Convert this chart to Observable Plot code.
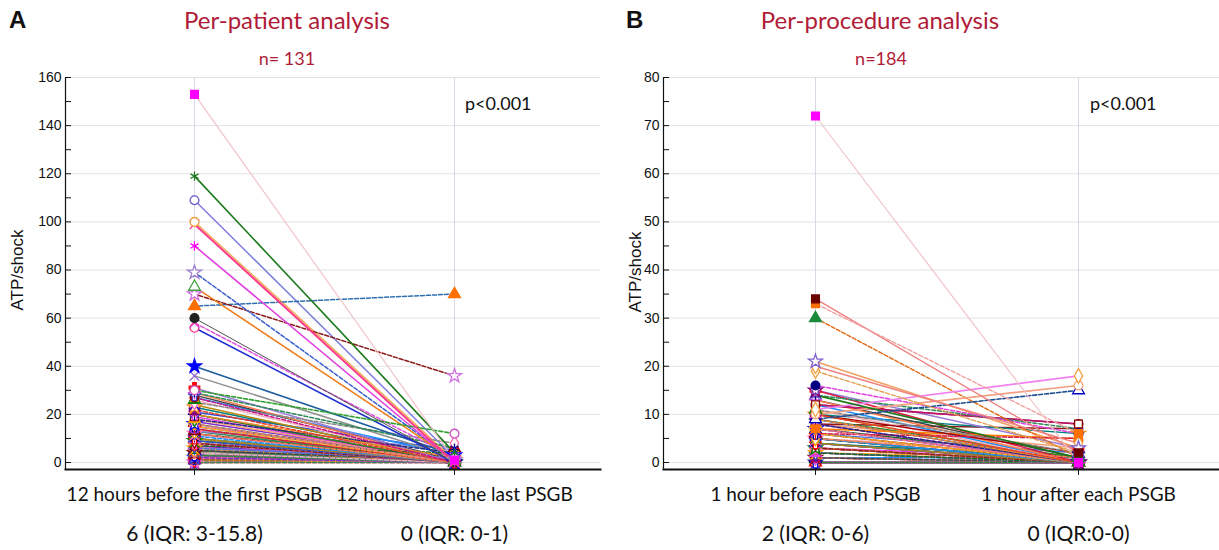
<!DOCTYPE html>
<html><head><meta charset="utf-8">
<script src="https://cdn.jsdelivr.net/npm/d3@7"></script>
<script src="https://cdn.jsdelivr.net/npm/@observablehq/plot@0.6"></script>
<style>
body{margin:0;background:#fff;}
#wrap{position:relative;width:1219px;height:550px;overflow:hidden;font-family:Lato,sans-serif;background:#fff;}
.abs{position:absolute;white-space:nowrap;}
.letter{font-family:"Liberation Sans",Arial,sans-serif;font-weight:bold;font-size:24px;line-height:28px;color:#111;}
.title{color:#b01c38;font-size:24px;line-height:28px;text-align:center;width:300px;}
.sub{color:#b01c38;font-size:18px;line-height:22px;text-align:center;width:200px;}
.ptxt{font-size:18px;line-height:22px;color:#111;}
.ylab{font-family:"Liberation Sans",Arial,sans-serif;font-size:17px;line-height:20px;color:#111;width:100px;text-align:center;transform:rotate(-90deg);}
</style></head>
<body><div id="wrap">
  <div class="abs letter" style="left:9px;top:6px">A</div>
  <div class="abs title" style="left:137px;top:6px">Per-patient analysis</div>
  <div class="abs sub" style="left:187px;top:47px">n= 131</div>
  <div class="abs ptxt" style="left:465px;top:92px">p&lt;0.001</div>
  <div class="abs ylab" style="left:-32px;top:260px">ATP/shock</div>
  <div class="abs" id="chartA" style="left:0;top:65px"></div>

  <div class="abs letter" style="left:626px;top:6px">B</div>
  <div class="abs title" style="left:730px;top:6px">Per-procedure analysis</div>
  <div class="abs sub" style="left:781px;top:47px">n=184</div>
  <div class="abs ptxt" style="left:1090px;top:92px">p&lt;0.001</div>
  <div class="abs ylab" style="left:586px;top:262px">ATP/shock</div>
  <div class="abs" id="chartB" style="left:610px;top:65px"></div>
</div>
<script>
// ---------------- DATA ----------------
const categoriesA = ["12 hours before the first PSGB", "12 hours after the last PSGB"];
const summaryA = ["6 (IQR: 3-15.8)", "0 (IQR: 0-1)"];
const yTicksA = [0, 20, 40, 60, 80, 100, 120, 140, 160];
const yMinorA = [0, 10, 20, 30, 40, 50, 60, 70, 80, 90, 100, 110, 120, 130, 140, 150, 160];
const beforeA = [153, 119, 109, 100, 99, 90, 79, 73, 70, 65, 60, 58, 56, 40, 36, 30,
  31, 29, 29, 28, 27, 27, 26, 25, 24, 23, 22, 21, 20, 20, 20, 19, 18, 18, 17, 16, 16, 15, 15, 15,
  14, 14, 13, 13, 12, 12, 12, 11, 11, 10, 10, 10, 10, 9, 9, 9, 8, 8, 8, 8, 7, 7, 7, 7,
  6, 6, 6, 6, 6, 5, 5, 5, 5, 5, 4, 4, 4, 4, 4, 3, 3, 3, 3, 3, 3, 2, 2, 2, 2, 2, 1, 1, 1, 1, 1, 0, 0, 0, 0];
const afterA = [1, 4, 2, 1, 0, 0, 1, 1, 36, 70, 0, 2, 0, 3, 2, 12,
  0, 6, 0, 1, 0, 3, 0, 8, 0, 1, 0, 5, 0, 2, 0, 0, 4, 0, 1, 0, 0, 2, 0, 1,
  0, 0, 6, 0, 0, 1, 0, 0, 3, 0, 0, 1, 0, 0, 2, 0, 0, 0, 1, 0, 0, 0, 4, 0,
  0, 1, 0, 0, 2, 0, 0, 1, 0, 0, 0, 0, 1, 0, 0, 0, 0, 1, 0, 0, 0, 0, 0, 1, 0, 0, 0, 0, 1, 0, 0, 0, 0, 1, 0];

const categoriesB = ["1 hour before each PSGB", "1 hour after each PSGB"];
const summaryB = ["2 (IQR: 0-6)", "0 (IQR:0-0)"];
const yTicksB = [0, 10, 20, 30, 40, 50, 60, 70, 80];
const yMinorB = [0, 5, 10, 15, 20, 25, 30, 35, 40, 45, 50, 55, 60, 65, 70, 75, 80];
const beforeB = [72, 34, 33, 30, 21, 20, 19, 16, 14, 11, 10, 9, 12, 10, 7,
  15, 15, 14, 13, 13, 12, 12, 11, 11, 10, 10, 10, 9, 9, 9, 8, 8, 8, 8, 7, 7, 7, 7,
  6, 6, 6, 6, 6, 5, 5, 5, 5, 5, 5, 4, 4, 4, 4, 4, 4, 3, 3, 3, 3, 3, 3, 3,
  2, 2, 2, 2, 2, 2, 2, 2, 1, 1, 1, 1, 1, 1, 1, 1, 1, 0, 0, 0, 0, 0, 0, 0, 0, 0, 0, 0, 0];
const afterB = [0, 2, 6, 1, 3, 4, 2, 6, 1, 18, 16, 15, 8, 2, 5,
  0, 3, 7, 0, 1, 8, 0, 0, 2, 0, 6, 0, 0, 1, 0, 7, 0, 0, 3, 0, 0, 1, 0,
  0, 2, 0, 5, 0, 0, 1, 0, 0, 0, 2, 0, 0, 1, 0, 0, 0, 0, 0, 1, 0, 0, 0, 0,
  0, 0, 1, 0, 0, 0, 0, 0, 0, 0, 0, 1, 0, 0, 0, 0, 0, 0, 0, 0, 0, 0, 0, 0, 0, 0, 0, 0];

// ---------------- STYLES ----------------
const notableStylesA = [
  {stroke: "#f2c4c8", dash: false, symbol: "square", mark: "#ff00ff", fill: true, w: 1.2},
  {stroke: "#1e7b1e", dash: false, symbol: "asterisk", mark: "#1e7b1e", fill: true, w: 1.6},
  {stroke: "#7f7fe0", dash: false, symbol: "circle", mark: "#6a5acd", fill: false, w: 1.5},
  {stroke: "#f0b060", dash: false, symbol: "circle", mark: "#f0a040", fill: false, w: 1.5},
  {stroke: "#ff3c8c", dash: false, symbol: "times", mark: "#ff3c8c", fill: true, w: 2},
  {stroke: "#e040e0", dash: false, symbol: "asterisk", mark: "#ff00ff", fill: true, w: 1.6},
  {stroke: "#3a5fcd", dash: true, symbol: "star", mark: "#a080d0", fill: false, w: 1.5},
  {stroke: "#f08020", dash: false, symbol: "triangle", mark: "#40a040", fill: false, w: 1.6},
  {stroke: "#8b1a1a", dash: true, symbol: "star", mark: "#d070e0", fill: false, w: 1.5},
  {stroke: "#2f6fb0", dash: true, symbol: "triangle", mark: "#ff7000", fill: true, w: 1.5},
  {stroke: "#505050", dash: false, symbol: "circle", mark: "#222222", fill: true, w: 1},
  {stroke: "#e050e0", dash: true, symbol: "times", mark: "#e050e0", fill: true, w: 1.5},
  {stroke: "#2030d0", dash: false, symbol: "circle", mark: "#ff3080", fill: false, w: 1.6},
  {stroke: "#1f5fa0", dash: false, symbol: "star", mark: "#0000ff", fill: true, w: 1.6},
  {stroke: "#909090", dash: false, symbol: "times", mark: "#9060d0", fill: true, w: 1.5},
  {stroke: "#30a030", dash: true, symbol: "circle", mark: "#d050c0", fill: false, w: 1.6}
];
const notableStylesB = [
  {stroke: "#f2c4c8", dash: false, symbol: "square", mark: "#ff00ff", fill: true, w: 1.2},
  {stroke: "#f08080", dash: false, symbol: "square", mark: "#6b0000", fill: true, w: 1.4},
  {stroke: "#f0a0a0", dash: true, symbol: "square", mark: "#ff7000", fill: true, w: 1.4},
  {stroke: "#e07020", dash: true, symbol: "triangle", mark: "#1a8a3a", fill: true, w: 1.5},
  {stroke: "#f0a060", dash: false, symbol: "star", mark: "#8060d0", fill: false, w: 1.5},
  {stroke: "#f08080", dash: false, symbol: "diamond", mark: "#f0a040", fill: false, w: 1.4},
  {stroke: "#e0a050", dash: true, symbol: "diamond", mark: "#f0a040", fill: false, w: 1.4},
  {stroke: "#e040e0", dash: true, symbol: "circle", mark: "#000080", fill: true, w: 1.5},
  {stroke: "#1a7a1a", dash: false, symbol: "times", mark: "#8060d0", fill: true, w: 1.6},
  {stroke: "#f080f0", dash: false, symbol: "diamond", mark: "#f0a040", fill: false, w: 1.6},
  {stroke: "#f4a080", dash: false, symbol: "circle", mark: "#f4a080", fill: false, w: 1.6},
  {stroke: "#1f4f8f", dash: true, symbol: "triangle", mark: "#0000c0", fill: false, w: 1.6},
  {stroke: "#8b0000", dash: false, symbol: "square", mark: "#8b0000", fill: false, w: 1.5},
  {stroke: "#a00000", dash: false, symbol: "square", mark: "#c00000", fill: true, w: 1.5},
  {stroke: "#ff8000", dash: false, symbol: "square", mark: "#ff7000", fill: true, w: 1.5}
];
const linePalette = ["#e8402a","#2a4fd0","#2e8b2e","#f08a24","#8b1a1a","#e040e0","#1c2a80","#f4a070","#7a2ad0",
  "#f08080","#1a6a1a","#ff6eb4","#f5a623","#4a78e0","#9b5523","#d81b45","#9b7bd8","#2e8b57","#ff7f50",
  "#444444","#c71585","#1e90ff","#f6b0c0","#8a8a8a","#b8860b","#008080"];
const symbolPalette = ["circle","square","triangle","diamond","times","star","cross","asterisk","plus","wye"];
const markPalette = ["#008000","#ff69b4","#0000ff","#f08a24","#800080","#ff0000","#000080","#e040e0","#4040c0","#8b0000","#ffa500"];

function styleFor(i, notable) {
  if (i < notable.length) return notable[i];
  return {
    stroke: linePalette[i % linePalette.length],
    dash: i % 3 === 2,
    symbol: symbolPalette[i % symbolPalette.length],
    mark: markPalette[i % markPalette.length],
    fill: i % 2 === 0,
    w: 1.5
  };
}

function buildRows(cats, before, after, notable) {
  const rows = [];
  before.forEach((b, i) => {
    const s = styleFor(i, notable);
    rows.push({id: i, cat: cats[0], v: b, ...s});
    rows.push({id: i, cat: cats[1], v: after[i], ...s});
  });
  return rows.reverse();
}

function panel({cats, summary, before, after, notable, ticks, minor, ymax, marginLeft, marginRight, insetL, insetR}) {
  const width = 609, height = 485, marginTop = 12, marginBottom = 81;
  const frameW = width - marginLeft - marginRight;
  const rows = buildRows(cats, before, after, notable);
  const widths = [...new Set(rows.map(d => d.w))];
  const lineMarks = [];
  for (const w of widths) {
    lineMarks.push(Plot.line(rows.filter(d => !d.dash && d.w === w), {x: "cat", y: "v", z: "id", stroke: "stroke", strokeWidth: w}));
    lineMarks.push(Plot.line(rows.filter(d => d.dash && d.w === w), {x: "cat", y: "v", z: "id", stroke: "stroke", strokeWidth: w, strokeDasharray: "4,2"}));
  }
  return Plot.plot({
    width, height, marginTop, marginBottom, marginLeft, marginRight,
    style: {background: "transparent", color: "#111", fontFamily: "'Liberation Sans', Arial, sans-serif"},
    x: {type: "point", domain: cats, padding: 0, insetLeft: insetL, insetRight: insetR},
    y: {domain: [0, ymax], insetBottom: 7},
    marks: [
      Plot.ruleY(ticks, {stroke: "#e2e2e2", strokeWidth: 1}),
      Plot.ruleX(cats, {stroke: "#ddd8e6", strokeWidth: 1}),
      ...lineMarks,
      Plot.dot(rows, {x: "cat", y: "v", symbol: "symbol", stroke: "mark", fill: d => d.fill ? d.mark : "white", r: 4.4, strokeWidth: 1.3}),
      Plot.frame({anchor: "left", stroke: "#111", strokeWidth: 1.2}),
      Plot.frame({anchor: "bottom", stroke: "#111", strokeWidth: 2}),
      Plot.tickY(minor, {y: d => d, stroke: "#111", strokeWidth: 1, insetRight: frameW - 6}),
      Plot.axisY(ticks, {tickSize: 0, tickPadding: 4, fontSize: 14, label: null}),
      Plot.axisX(cats, {tickSize: 6, tickPadding: 12, fontSize: 19, fontFamily: "Lato, sans-serif", label: null}),
      Plot.text(cats, {x: d => d, text: (d, i) => summary[i], frameAnchor: "bottom", dy: 71, fontSize: 21, fontFamily: "Lato, sans-serif"})
    ]
  });
}

document.getElementById("chartA").append(panel({
  cats: categoriesA, summary: summaryA, before: beforeA, after: afterA, notable: notableStylesA,
  ticks: yTicksA, minor: yMinorA, ymax: 160, marginLeft: 65, marginRight: 9, insetL: 129, insetR: 146
}));
document.getElementById("chartB").append(panel({
  cats: categoriesB, summary: summaryB, before: beforeB, after: afterB, notable: notableStylesB,
  ticks: yTicksB, minor: yMinorB, ymax: 80, marginLeft: 53, marginRight: 0, insetL: 152, insetR: 141
}));
</script>
</body></html>
